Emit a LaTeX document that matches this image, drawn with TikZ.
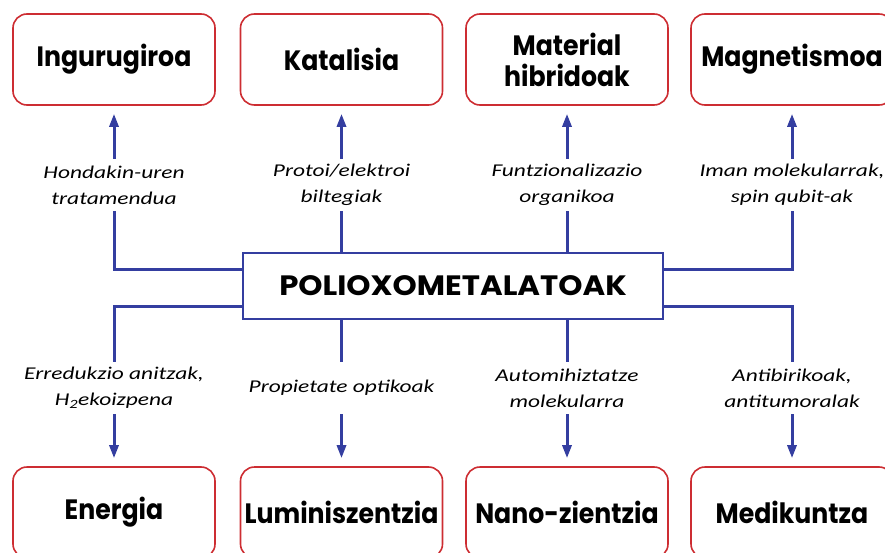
\documentclass[tikz,border=0pt]{standalone}
\usepackage{fontspec}
\setmainfont{Carlito}
\newfontfamily\gothic{Poppins}[FakeStretch=0.9]
\newfontfamily\widegothic{Poppins}[FakeStretch=1.1]
\newfontfamily\notefont{Carlito}[FakeStretch=1.3]
\usetikzlibrary{arrows.meta}
\definecolor{boxred}{RGB}{205,45,50}
\definecolor{linkblue}{RGB}{52,62,160}

\begin{document}
\begin{tikzpicture}[x=1pt,y=-1pt,>={Triangle[length=13pt,width=9pt]},
  topic/.style={draw=boxred, line width=1.6pt, rounded corners=14pt,
    minimum width=202pt, minimum height=91pt, align=center, inner sep=2pt,
    font=\gothic\bfseries\fontsize{28}{31}\selectfont},
  core/.style={draw=linkblue, line width=2.2pt, minimum width=420pt,
    minimum height=66pt, font=\widegothic\bfseries\fontsize{28}{31}\selectfont},
  link/.style={draw=linkblue, line width=3pt, shorten >=8pt},
  note/.style={fill=white, align=center, inner sep=1pt, minimum height=52pt,
    font=\notefont\itshape\fontsize{18}{26}\selectfont}]
  \useasboundingbox (0,0) rectangle (885,553);

  % centre
  \node[core] (pom) at (453,286) {POLIOXOMETALATOAK};

  % upper row
  \node[topic] (ingurugiroa) at (114,59.5) {Ingurugiroa};
  \node[topic] (katalisia) at (341.5,59.5) {Katalisia};
  \node[topic] (hibrido) at (567,59.5) {Material\\hibridoak};
  \node[topic] (magnetismoa) at (792,59.5) {Magnetismoa};

  % lower row
  \node[topic] (energia) at (114,512.5) {Energia};
  \node[topic] (luminis) at (341.5,512.5) {Luminiszentzia};
  \node[topic] (nano) at (567,512.5) {Nano-zientzia};
  \node[topic] (medikuntza) at (792,512.5) {Medikuntza};

  % links up
  \draw[link,->] ([yshift=17pt]pom.west) -| (ingurugiroa.south);
  \draw[link,->] (katalisia.south |- pom.north) -- (katalisia.south);
  \draw[link,->] (hibrido.south |- pom.north) -- (hibrido.south);
  \draw[link,->] ([yshift=17pt]pom.east) -| (magnetismoa.south);

  % links down
  \draw[link,->] ([yshift=-20pt]pom.west) -| (energia.north);
  \draw[link,->] (luminis.north |- pom.south) -- (luminis.north);
  \draw[link,->] (nano.north |- pom.south) -- (nano.north);
  \draw[link,->] ([yshift=-20pt]pom.east) -| (medikuntza.north);

  % labels
  \node[note] (n1) at (114,185) {Hondakin-uren\\tratamendua};
  \node[note] (n2) at (341.5,185) {Protoi/elektroi\\biltegiak};
  \node[note] (n3) at (567,185) {Funtzionalizazio\\organikoa};
  \node[note] (n4) at (792,185) {Iman molekularrak,\\spin qubit-ak};
  \node[note] (n5) at (114,388) {Erredukzio anitzak,\\H\textsubscript{2}ekoizpena};
  \node[note] (n6) at (341.5,388) {Propietate optikoak};
  \node[note] (n7) at (567,388) {Automihiztatze\\molekularra};
  \node[note] (n8) at (792,388) {Antibirikoak,\\antitumoralak};
\end{tikzpicture}
\end{document}
